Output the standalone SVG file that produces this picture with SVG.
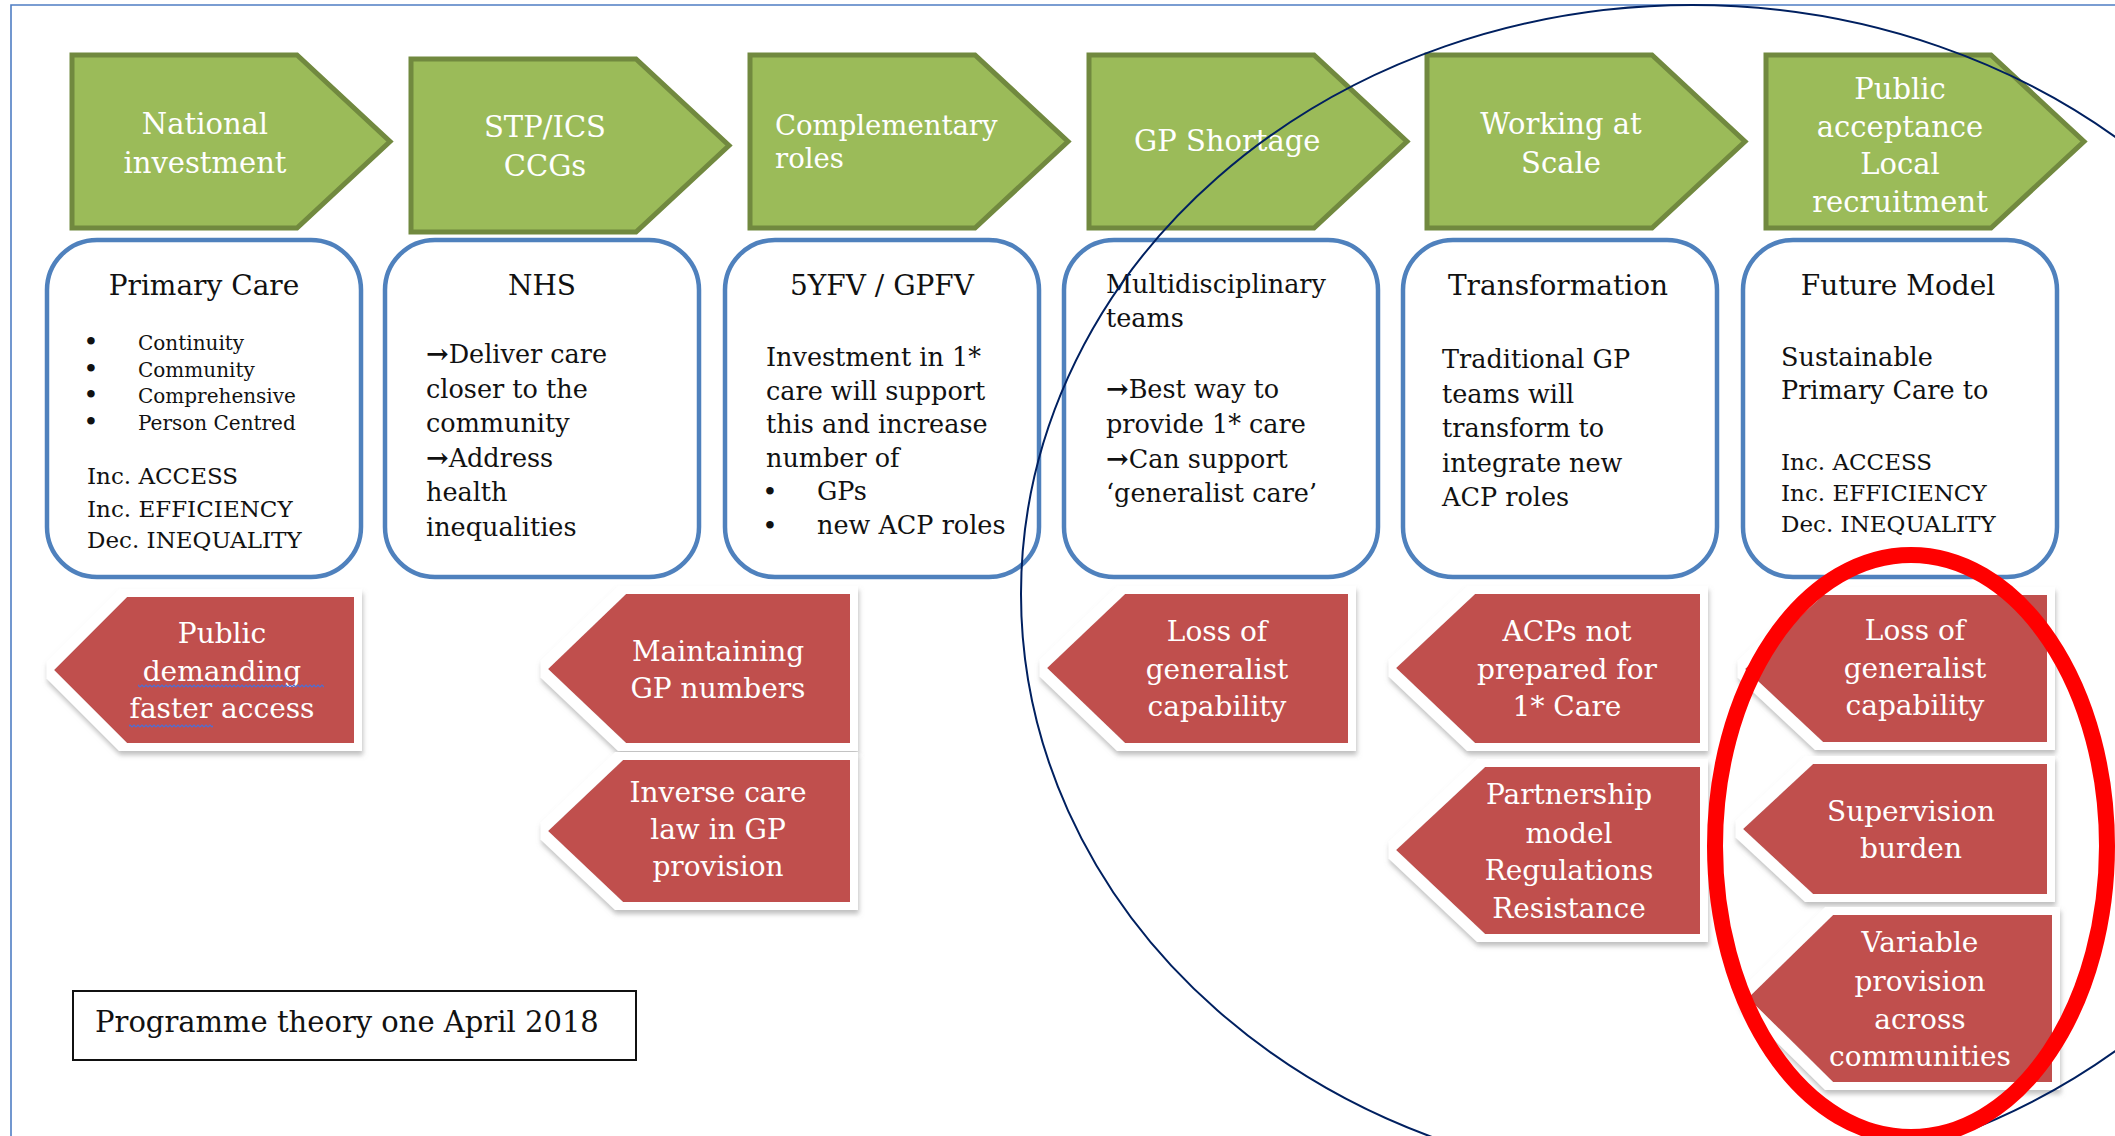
<svg xmlns="http://www.w3.org/2000/svg" width="2115" height="1136" viewBox="0 0 2115 1136">
<style>
  text { font-family: "DejaVu Serif", "Liberation Serif", serif; }
  .stage polygon { fill: #9BBB59; stroke: #71893F; stroke-width: 5; stroke-linejoin: miter; }
  .stage text { fill: #ffffff; font-size: 29px; }
  .box rect { fill: #ffffff; stroke: #4F81BD; stroke-width: 4.5; }
  .box text { fill: #111111; }
  .hd { font-size: 28px; text-anchor: middle; }
  .bd { font-size: 25.5px; }
  .sm { font-size: 20px; }
  .cap { font-size: 23px; }
  .mid { text-anchor: middle; }
  .arr { font-weight: bold; font-size: 27px; }
  .dot { font-size: 26px; text-anchor: middle; }
  .barrier polygon { fill: #C0504D; filter: url(#glow); }
  .barrier text { fill: #ffffff; font-size: 28px; text-anchor: middle; }
  .squig { fill: url(#squig); }
</style>
<defs>
  <filter id="glow" x="-15%" y="-20%" width="130%" height="145%">
    <feMorphology in="SourceAlpha" operator="dilate" radius="8" result="d"/>
    <feGaussianBlur in="d" stdDeviation="2.5" result="db"/>
    <feOffset in="db" dx="1" dy="4" result="off"/>
    <feFlood flood-color="#8a8a8a" flood-opacity="0.55"/>
    <feComposite in2="off" operator="in" result="shadow"/>
    <feFlood flood-color="#ffffff"/>
    <feComposite in2="d" operator="in" result="white"/>
    <feMerge>
      <feMergeNode in="shadow"/>
      <feMergeNode in="white"/>
      <feMergeNode in="SourceGraphic"/>
    </feMerge>
  </filter>
  <pattern id="squig" width="4" height="4" patternUnits="userSpaceOnUse">
    <path d="M0,3 L2,1 L4,3" fill="none" stroke="#4A6FD8" stroke-width="1.1"/>
  </pattern>
</defs>

<rect width="2115" height="1136" fill="#ffffff"/>
<path d="M11,1136 V5 H2115" fill="none" stroke="#4F7EC4" stroke-width="1.6"/>

<!-- Green stage arrows -->
<g id="stage-national" class="stage">
  <polygon points="72,55 297,55 390,141.5 297,228 72,228"/>
  <text x="205" y="134" class="mid">National</text>
  <text x="205" y="173" class="mid">investment</text>
</g>
<g id="stage-stp" class="stage">
  <polygon points="411,59 636,59 729,145.5 636,232 411,232"/>
  <text x="545" y="137" class="mid">STP/ICS</text>
  <text x="545" y="176" class="mid">CCGs</text>
</g>
<g id="stage-complementary" class="stage">
  <polygon points="750,55 975,55 1068,141.5 975,228 750,228"/>
  <text x="775" y="135" style="font-size:27.5px">Complementary</text>
  <text x="775" y="168" style="font-size:27.5px">roles</text>
</g>
<g id="stage-gpshortage" class="stage">
  <polygon points="1089,55 1314,55 1407,141.5 1314,228 1089,228"/>
  <text x="1134" y="151">GP Shortage</text>
</g>
<g id="stage-scale" class="stage">
  <polygon points="1427,55 1652,55 1745,141.5 1652,228 1427,228"/>
  <text x="1561" y="134" class="mid">Working at</text>
  <text x="1561" y="173" class="mid">Scale</text>
</g>
<g id="stage-public" class="stage">
  <polygon points="1766,55 1991,55 2084,141.5 1991,228 1766,228"/>
  <text x="1900" y="99" class="mid">Public</text>
  <text x="1900" y="137" class="mid">acceptance</text>
  <text x="1900" y="174" class="mid">Local</text>
  <text x="1900" y="212" class="mid">recruitment</text>
</g>

<!-- Blue rounded boxes -->
<g id="box-primary-care" class="box">
  <rect x="47" y="240" width="314" height="337" rx="50" ry="50"/>
  <text x="204" y="295" class="hd">Primary Care</text>
  <text x="91" y="351" class="dot">•</text><text x="138" y="350" class="sm">Continuity</text>
  <text x="91" y="378" class="dot">•</text><text x="138" y="377" class="sm">Community</text>
  <text x="91" y="404" class="dot">•</text><text x="138" y="403" class="sm">Comprehensive</text>
  <text x="91" y="431" class="dot">•</text><text x="138" y="430" class="sm">Person Centred</text>
  <text x="87" y="484" class="cap">Inc. ACCESS</text>
  <text x="87" y="517" class="cap">Inc. EFFICIENCY</text>
  <text x="87" y="548" class="cap">Dec. INEQUALITY</text>
</g>
<g id="box-nhs" class="box">
  <rect x="385" y="240" width="314" height="337" rx="50" ry="50"/>
  <text x="542" y="295" class="hd">NHS</text>
  <text x="426" y="363" class="bd"><tspan class="arr">→</tspan>Deliver care</text>
  <text x="426" y="397.5" class="bd">closer to the</text>
  <text x="426" y="432" class="bd">community</text>
  <text x="426" y="466.5" class="bd"><tspan class="arr">→</tspan>Address</text>
  <text x="426" y="501" class="bd">health</text>
  <text x="426" y="535.5" class="bd">inequalities</text>
</g>
<g id="box-5yfv" class="box">
  <rect x="725" y="240" width="314" height="337" rx="50" ry="50"/>
  <text x="882" y="295" class="hd">5YFV / GPFV</text>
  <text x="766" y="366" class="bd">Investment in 1*</text>
  <text x="766" y="399.5" class="bd">care will support</text>
  <text x="766" y="433" class="bd">this and increase</text>
  <text x="766" y="466.5" class="bd">number of</text>
  <text x="770" y="501" class="dot">•</text><text x="817" y="500" class="bd">GPs</text>
  <text x="770" y="534.5" class="dot">•</text><text x="817" y="533.5" class="bd">new ACP roles</text>
</g>
<g id="box-multidisciplinary" class="box">
  <rect x="1064" y="240" width="314" height="337" rx="50" ry="50"/>
  <text x="1106" y="293" class="bd">Multidisciplinary</text>
  <text x="1106" y="327" class="bd">teams</text>
  <text x="1106" y="398" class="bd"><tspan class="arr">→</tspan>Best way to</text>
  <text x="1106" y="433" class="bd">provide 1* care</text>
  <text x="1106" y="468" class="bd"><tspan class="arr">→</tspan>Can support</text>
  <text x="1106" y="502" class="bd">‘generalist care’</text>
</g>
<g id="box-transformation" class="box">
  <rect x="1403" y="240" width="314" height="337" rx="50" ry="50"/>
  <text x="1558" y="295" class="hd">Transformation</text>
  <text x="1442" y="368" class="bd">Traditional GP</text>
  <text x="1442" y="402.5" class="bd">teams will</text>
  <text x="1442" y="437" class="bd">transform to</text>
  <text x="1442" y="471.5" class="bd">integrate new</text>
  <text x="1442" y="506" class="bd">ACP roles</text>
</g>
<g id="box-future-model" class="box">
  <rect x="1743" y="240" width="314" height="337" rx="50" ry="50"/>
  <text x="1898" y="295" class="hd">Future Model</text>
  <text x="1781" y="366" class="bd">Sustainable</text>
  <text x="1781" y="399" class="bd">Primary Care to</text>
  <text x="1781" y="470" class="cap">Inc. ACCESS</text>
  <text x="1781" y="501" class="cap">Inc. EFFICIENCY</text>
  <text x="1781" y="532" class="cap">Dec. INEQUALITY</text>
</g>

<!-- Red barrier arrows -->
<g id="barrier-public-demanding" class="barrier">
  <polygon points="127,597 354,597 354,743 127,743 54,670"/>
  <text x="222" y="643">Public</text>
  <text x="222" y="681">demanding</text>
  <text x="222" y="718">faster access</text>
  <rect class="squig" x="138" y="684" width="186" height="4"/>
  <rect class="squig" x="129" y="724" width="84" height="4"/>
</g>
<g id="barrier-maintaining" class="barrier">
  <polygon points="626,594 850,594 850,743 626,743 548,669"/>
  <text x="718" y="661">Maintaining</text>
  <text x="718" y="698">GP numbers</text>
</g>
<g id="barrier-inverse-care" class="barrier">
  <polygon points="623,760 850,760 850,902 623,902 548,831"/>
  <text x="718" y="802">Inverse care</text>
  <text x="718" y="839">law in GP</text>
  <text x="718" y="876">provision</text>
</g>
<g id="barrier-loss-1" class="barrier">
  <polygon points="1125,594 1348,594 1348,743 1125,743 1047,668"/>
  <text x="1217" y="641">Loss of</text>
  <text x="1217" y="679">generalist</text>
  <text x="1217" y="716">capability</text>
</g>
<g id="barrier-acps" class="barrier">
  <polygon points="1475,594 1700,594 1700,743 1475,743 1396,668"/>
  <text x="1567" y="641">ACPs not</text>
  <text x="1567" y="679">prepared for</text>
  <text x="1567" y="716">1* Care</text>
</g>
<g id="barrier-partnership" class="barrier">
  <polygon points="1485,767 1700,767 1700,934 1485,934 1396,850"/>
  <text x="1569" y="804">Partnership</text>
  <text x="1569" y="843">model</text>
  <text x="1569" y="880">Regulations</text>
  <text x="1569" y="918">Resistance</text>
</g>
<g id="barrier-loss-2" class="barrier">
  <polygon points="1823,595 2047,595 2047,742 1823,742 1745,669"/>
  <text x="1915" y="640">Loss of</text>
  <text x="1915" y="678">generalist</text>
  <text x="1915" y="715">capability</text>
</g>
<g id="barrier-supervision" class="barrier">
  <polygon points="1813,764 2047,764 2047,894 1813,894 1743,829"/>
  <text x="1911" y="821">Supervision</text>
  <text x="1911" y="858">burden</text>
</g>
<g id="barrier-variable" class="barrier">
  <polygon points="1833,915 2052,915 2052,1082 1833,1082 1748,998"/>
  <text x="1920" y="952">Variable</text>
  <text x="1920" y="991">provision</text>
  <text x="1920" y="1029">across</text>
  <text x="1920" y="1066">communities</text>
</g>

<!-- Caption -->
<g id="caption">
  <rect x="73" y="991" width="563" height="69" fill="#ffffff" stroke="#111111" stroke-width="2"/>
  <text x="95" y="1032" font-size="29" fill="#111111">Programme theory one April 2018</text>
</g>

<!-- Highlight ellipses -->
<g id="connectors">
  <ellipse cx="1692" cy="594" rx="671" ry="589" fill="none" stroke="#002060" stroke-width="2"/>
  <ellipse cx="1911" cy="846" rx="196" ry="291" fill="none" stroke="#FF0000" stroke-width="16"/>
</g>
</svg>
